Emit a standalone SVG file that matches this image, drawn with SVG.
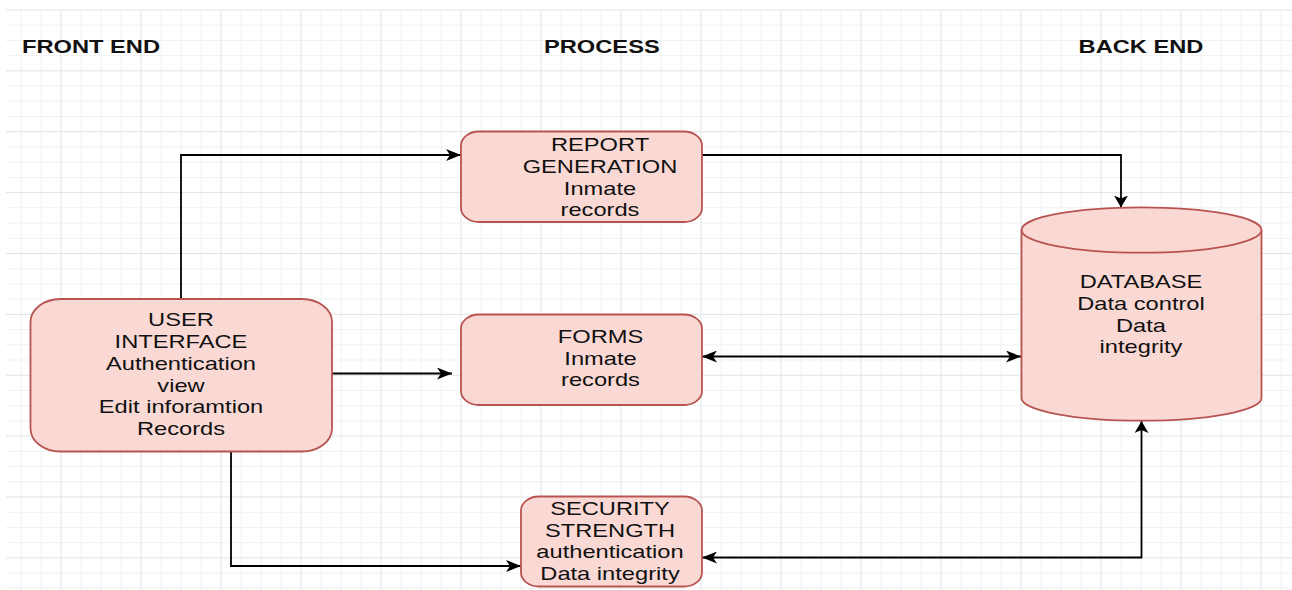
<svg xmlns="http://www.w3.org/2000/svg" width="1292" height="590" viewBox="0 0 1292 590">
<style>
.minor{stroke:#eff1f3;stroke-width:1;fill:none}
.major{stroke:#dfe3e7;stroke-width:1;fill:none}
.box{fill:#fad9d5;stroke:#b85450;stroke-width:1.8}
.edge{fill:none;stroke:#000;stroke-width:1.8}
text{font-family:"Liberation Sans",Arial,sans-serif;font-size:18.5px;fill:#111}
.t text{text-anchor:middle}
.title{font-weight:bold}
</style>
<defs>
<marker id="ah" markerUnits="userSpaceOnUse" markerWidth="16" markerHeight="12" refX="15" refY="6" orient="auto-start-reverse"><path d="M0,0 L15,6 L0,12 L4,6 Z" fill="#000"/></marker>
<marker id="av" markerUnits="userSpaceOnUse" markerWidth="13" markerHeight="14" refX="12" refY="7" orient="auto-start-reverse"><path d="M0,0 L12,7 L0,14 L3,7 Z" fill="#000"/></marker>
</defs>
<rect width="1292" height="590" fill="#fff"/>
<g id="grid">
<path class="minor" d="M21 10V590M41 10V590M81 10V590M101 10V590M121 10V590M161 10V590M181 10V590M201 10V590M241 10V590M261 10V590M281 10V590M321 10V590M341 10V590M361 10V590M401 10V590M421 10V590M441 10V590M481 10V590M501 10V590M521 10V590M561 10V590M581 10V590M601 10V590M641 10V590M661 10V590M681 10V590M721 10V590M741 10V590M761 10V590M801 10V590M821 10V590M841 10V590M881 10V590M901 10V590M921 10V590M961 10V590M981 10V590M1001 10V590M1041 10V590M1061 10V590M1081 10V590M1121 10V590M1141 10V590M1161 10V590M1201 10V590M1221 10V590M1241 10V590M1281 10V590M6 25.22H1292M6 40.44H1292M6 55.66H1292M6 86.09H1292M6 101.31H1292M6 116.53H1292M6 146.97H1292M6 162.19H1292M6 177.41H1292M6 207.84H1292M6 223.06H1292M6 238.28H1292M6 268.72H1292M6 283.94H1292M6 299.16H1292M6 329.59H1292M6 344.81H1292M6 360.03H1292M6 390.47H1292M6 405.69H1292M6 420.91H1292M6 451.34H1292M6 466.56H1292M6 481.78H1292M6 512.22H1292M6 527.44H1292M6 542.66H1292M6 573.09H1292M6 588.31H1292"/>
<path class="major" d="M61 10V590M141 10V590M221 10V590M301 10V590M381 10V590M461 10V590M541 10V590M621 10V590M701 10V590M781 10V590M861 10V590M941 10V590M1021 10V590M1101 10V590M1181 10V590M1261 10V590M6 10H1292M6 70.88H1292M6 131.75H1292M6 192.63H1292M6 253.5H1292M6 314.38H1292M6 375.25H1292M6 436.13H1292M6 497H1292M6 557.88H1292"/>
</g>
<g id="titles" class="title">
<text class="title" transform="translate(22 53.3) scale(1.28 1)">FRONT END</text>
<text class="title" transform="translate(544 53.3) scale(1.28 1)">PROCESS</text>
<text class="title" transform="translate(1141 53.3) scale(1.28 1)" text-anchor="middle">BACK END</text>
</g>
<g id="connectors">
<path class="edge" d="M181,299 V155 H461" marker-end="url(#ah)"/>
<path class="edge" d="M702,155 H1121 V207.5" marker-end="url(#av)"/>
<path class="edge" d="M332,373.5 H452" marker-end="url(#ah)"/>
<path class="edge" d="M702,356.5 H1021" marker-start="url(#ah)" marker-end="url(#ah)"/>
<path class="edge" d="M231,452 V566 H521" marker-end="url(#ah)"/>
<path class="edge" d="M702,557.5 H1141.5 V421" marker-start="url(#ah)" marker-end="url(#av)"/>
</g>
<g id="user-interface" class="t">
<rect class="box" x="30.5" y="299" width="301.5" height="152.5" rx="30" ry="23"/>
<g transform="translate(181 0) scale(1.28 1)">
<text x="0" y="326">USER</text>
<text x="0" y="348">INTERFACE</text>
<text x="0" y="370">Authentication</text>
<text x="0" y="392">view</text>
<text x="0" y="413.5">Edit inforamtion</text>
<text x="0" y="435.5">Records</text>
</g>
</g>
<g id="report-generation" class="t">
<rect class="box" x="461" y="131.5" width="241" height="90.5" rx="18" ry="14"/>
<g transform="translate(600 0) scale(1.28 1)">
<text x="0" y="151.5">REPORT</text>
<text x="0" y="173">GENERATION</text>
<text x="0" y="195">Inmate</text>
<text x="0" y="216.5">records</text>
</g>
</g>
<g id="forms" class="t">
<rect class="box" x="461" y="314.5" width="241" height="90.5" rx="18" ry="14"/>
<g transform="translate(600.5 0) scale(1.28 1)">
<text x="0" y="343.5">FORMS</text>
<text x="0" y="365">Inmate</text>
<text x="0" y="386.5">records</text>
</g>
</g>
<g id="security-strength" class="t">
<rect class="box" x="521" y="496.5" width="181" height="90" rx="18" ry="14"/>
<g transform="translate(610 0) scale(1.28 1)">
<text x="0" y="515">SECURITY</text>
<text x="0" y="537">STRENGTH</text>
<text x="0" y="558.5">authentication</text>
<text x="0" y="580">Data integrity</text>
</g>
</g>
<g id="database" class="t">
<path class="box" d="M1021.5,230 A120,22.7 0 0 1 1261.5,230 V398 A120,22.7 0 0 1 1021.5,398 Z"/>
<path class="box" style="fill:none" d="M1021.5,230 A120,22.7 0 0 0 1261.5,230"/>
<g transform="translate(1141 0) scale(1.28 1)">
<text x="0" y="288.5">DATABASE</text>
<text x="0" y="310">Data control</text>
<text x="0" y="332">Data</text>
<text x="0" y="353.5">integrity</text>
</g>
</g>
</svg>
